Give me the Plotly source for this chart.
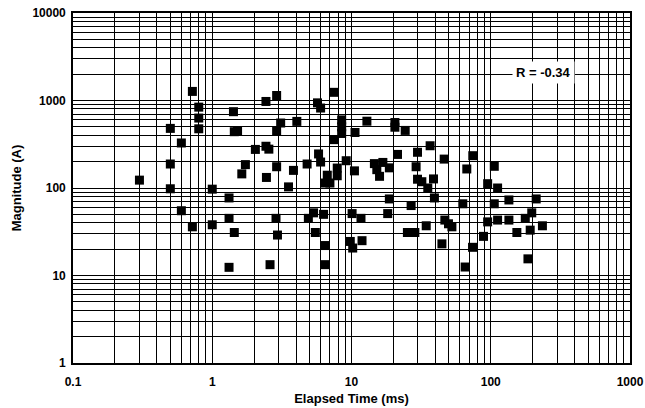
import numpy as np
import plotly.graph_objects as go

elapsed_ms = [0.3, 0.5, 0.5, 0.5, 0.6, 0.6, 0.72, 0.72, 0.8, 0.8, 0.8, 1.0, 1.0,
              1.32, 1.32, 1.32, 1.42, 1.44, 1.52, 1.44, 1.63, 1.73, 2.04, 2.43, 2.55,
              2.43, 2.9, 2.45, 2.6, 2.9, 3.1, 2.9, 2.87, 2.94, 3.53, 3.83, 4.05, 4.8,
              4.9, 5.34, 5.5, 5.7, 6.0, 5.8, 6.0, 6.3, 6.5, 7.0, 6.7, 6.45, 6.45, 7.5,
              7.5, 7.9, 7.9, 8.5, 8.5, 8.5, 9.16, 9.8, 10.1, 10.2, 10.6, 10.5, 11.7,
              11.9, 12.9, 14.6, 16.8, 15.2, 15.9, 18.7, 18.7, 18.2, 20.5, 20.5, 21.4,
              24.3, 26.8, 25.2, 28.5, 29.8, 29.1, 29.8, 32, 35.3, 36.7, 38.8, 39.4,
              34.4, 46.3, 46.8, 49.7, 52.6, 44.6, 63, 67.3, 74.3, 74, 65.5, 88.7, 95,
              112, 106, 95, 106, 112, 135, 135, 154, 177, 197, 192, 212, 235, 185]
magnitude_a = [123, 480, 188, 98, 327, 55, 1270, 36, 840, 630, 475, 97, 38,
               77, 45, 12.4, 745, 440, 443, 31, 145, 185, 276, 300, 278,
               975, 1140, 132, 13.3, 443, 553, 175, 45, 29, 103, 159, 577, 188,
               45, 52, 31, 940, 820, 245, 198, 50, 114, 114, 140, 22, 13.3, 1240,
               357, 169, 138, 600, 500, 420, 205, 24.5, 51, 20.6, 431, 157, 45,
               25, 580, 190, 196, 162, 136, 170, 75, 51, 560, 495, 242,
               455, 63, 31, 31, 256, 175, 126, 118, 100, 304, 127, 77,
               37, 214, 43, 39, 36, 23, 66, 165, 234, 21, 12.5, 28, 112,
               100, 177, 41, 66, 43, 73, 43, 31, 45, 52, 33, 75, 37, 15.5]

x_ticks = [0.1, 1, 10, 100, 1000]
x_tick_text = ["0.1", "1", "10", "100", "1000"]
y_ticks = [1, 10, 100, 1000, 10000]
y_tick_text = ["1", "10", "100", "1000", "10000"]
r_label = "R = -0.34"

def minor_vals(lo, hi):
    vals = []
    d = lo
    while d < hi:
        for m in range(2, 10):
            vals.append(m * d)
        d *= 10
    return vals

fig = go.Figure()
fig.add_trace(go.Scatter(
    x=elapsed_ms, y=magnitude_a, mode="markers",
    marker=dict(symbol="square", size=9, color="black"),
    showlegend=False,
))

font_main = "Liberation Sans, Arial, sans-serif"

fig.update_xaxes(
    type="log", range=[-1, 3], automargin=False,
    tickvals=x_ticks, ticktext=x_tick_text,
    showgrid=True, gridcolor="black", gridwidth=1.4,
    minor=dict(tickvals=minor_vals(0.1, 1000), showgrid=True, gridcolor="black", gridwidth=1.2, ticks=""),
    showline=True, linecolor="black", linewidth=1.6, mirror=True,
    ticks="", zeroline=False, ticklabelstandoff=7,
    tickfont=dict(family=font_main, size=12, color="black", weight="bold"),
    title=dict(text="Elapsed Time (ms)", font=dict(family=font_main, size=13, color="black", weight="bold"), standoff=6),
)
fig.update_yaxes(
    type="log", range=[0, 4], automargin=False,
    tickvals=y_ticks, ticktext=y_tick_text,
    showgrid=True, gridcolor="black", gridwidth=1.4,
    minor=dict(tickvals=minor_vals(1, 10000), showgrid=True, gridcolor="black", gridwidth=1.2, ticks=""),
    showline=True, linecolor="black", linewidth=1.6, mirror=True,
    ticks="", zeroline=False, ticklabelstandoff=3,
    tickfont=dict(family=font_main, size=12, color="black", weight="bold"),
    title=dict(text="Magnitude (A)", font=dict(family=font_main, size=13, color="black", weight="bold"), standoff=8),
)

fig.add_annotation(
    x=2.376, y=3.318, xref="x", yref="y",
    text="<b>" + r_label + "</b>", showarrow=False,
    font=dict(family=font_main, size=13, color="black"),
    bgcolor="white", borderpad=3,
)

fig.update_layout(
    width=645, height=408,
    margin=dict(l=73, r=15, t=13, b=45),
    plot_bgcolor="white", paper_bgcolor="white",
)

fig.write_html("out.html")
